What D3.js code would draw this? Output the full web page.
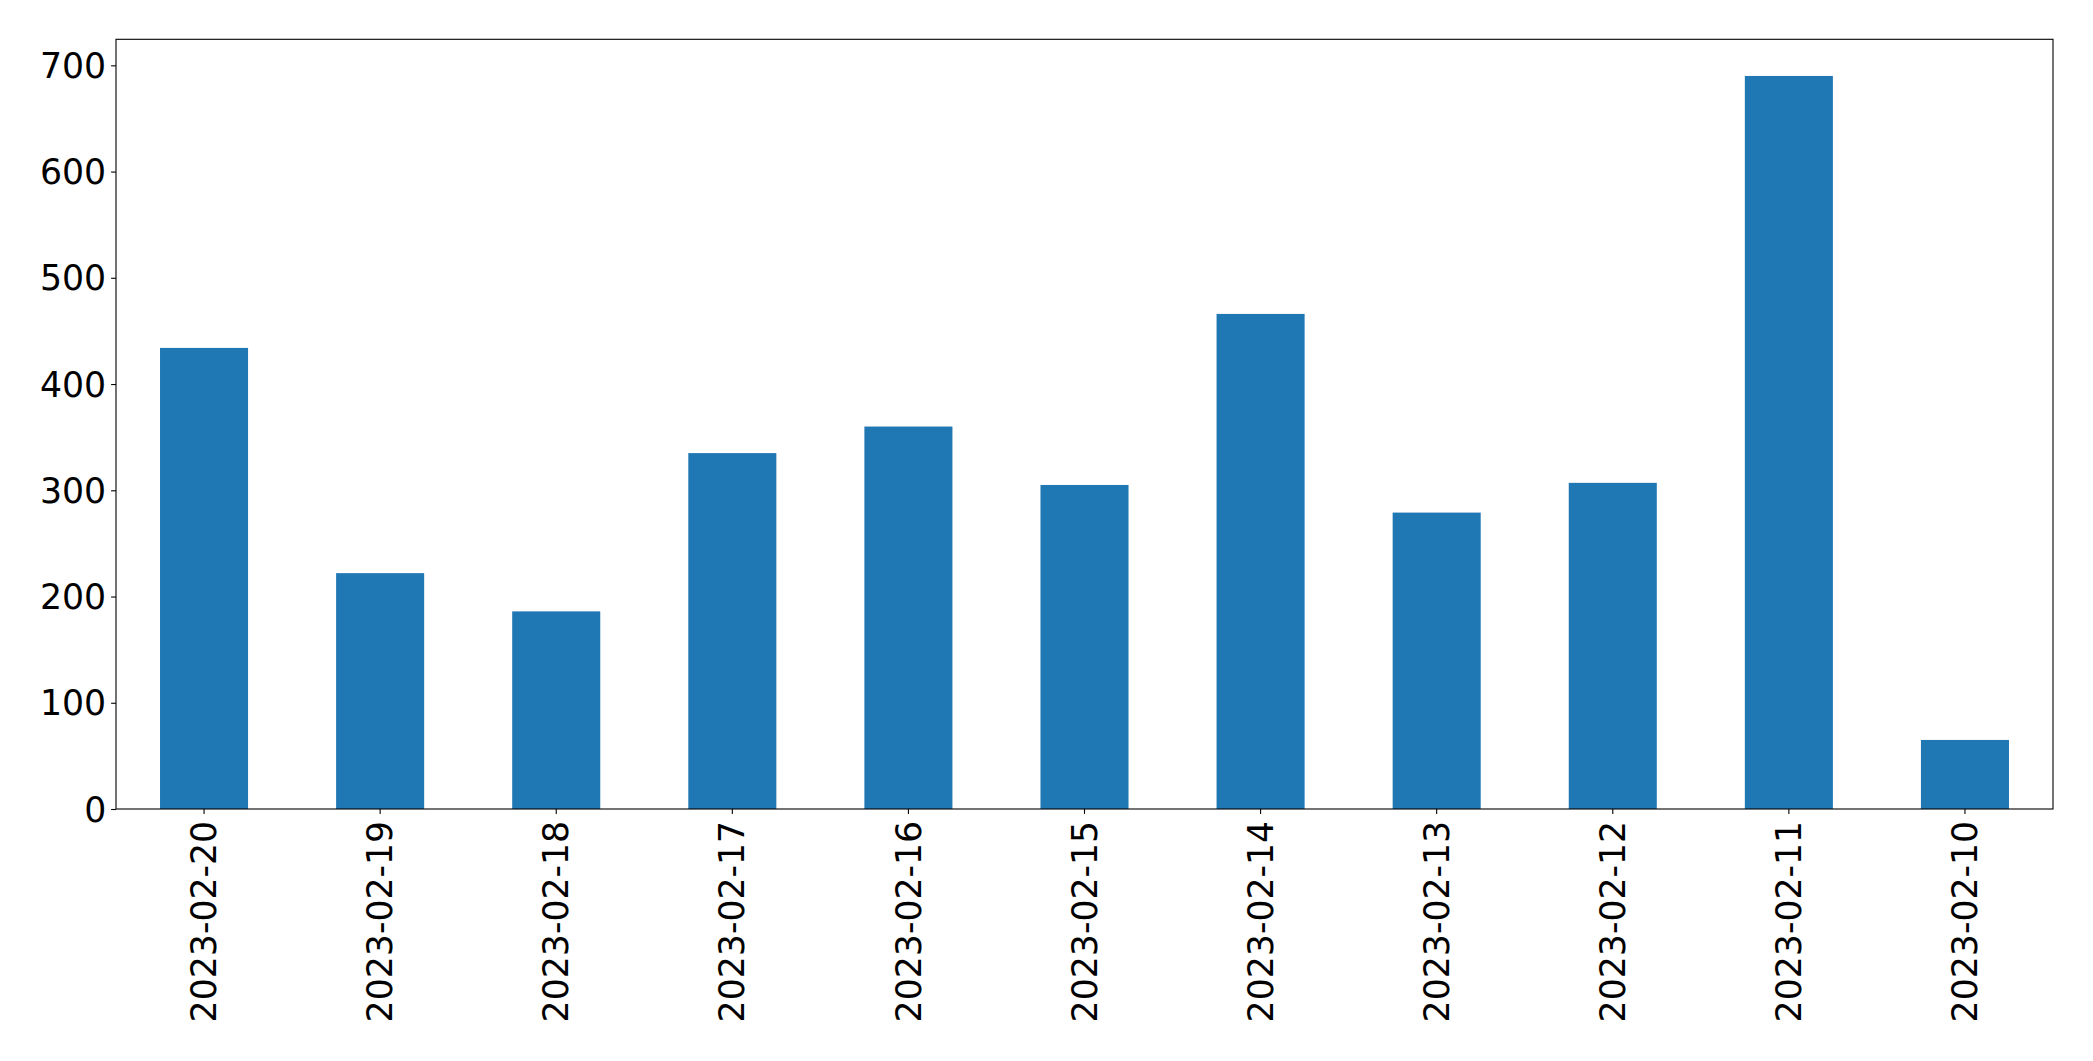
<!DOCTYPE html>
<html>
<head>
<meta charset="utf-8">
<script src="https://cdn.jsdelivr.net/npm/d3@7"></script>
<style>
  html, body { margin: 0; padding: 0; background: #fff; }
  svg { display: block; }
  text { font-family: "DejaVu Sans", sans-serif; fill: #000; }
</style>
</head>
<body>
<script>
const categories = ["2023-02-20","2023-02-19","2023-02-18","2023-02-17","2023-02-16","2023-02-15","2023-02-14","2023-02-13","2023-02-12","2023-02-11","2023-02-10"];
const values = [434, 222, 186, 335, 360, 305, 466, 279, 307, 690, 65];
const yTicks = [0, 100, 200, 300, 400, 500, 600, 700];

const W = 2093, H = 1061;
const mLeft = 116, mRight = 2053, mTop = 39.3, mBottom = 809;
const fontSize = 34.7;
const tickLen = 4.9, pad = 4.9;

const svg = d3.select("body").append("svg").attr("width", W).attr("height", H);

const x = d3.scaleBand().domain(categories).range([mLeft, mRight]).paddingInner(0.5).paddingOuter(0.25);
const ymax = d3.max(values) * 1.05;
const y = d3.scaleLinear().domain([0, ymax]).range([mBottom, mTop]);

svg.append("g").selectAll("rect").data(values).join("rect")
  .attr("x", (d, i) => x(categories[i]))
  .attr("width", x.bandwidth())
  .attr("y", d => y(d))
  .attr("height", d => y(0) - y(d))
  .attr("fill", "#1f77b4");

// y axis
const yAxis = svg.append("g").attr("transform", `translate(${mLeft},0)`)
  .call(d3.axisLeft(y).tickValues(yTicks).tickSize(tickLen).tickPadding(pad).tickFormat(d3.format("d")));
yAxis.select(".domain").remove();
yAxis.selectAll("line").attr("stroke", "#000").attr("stroke-width", 1.1);
yAxis.selectAll("text").style("font-size", fontSize + "px").style("font-family", "'DejaVu Sans', sans-serif").attr("fill", "#000").attr("dy", "0.35em");

// x axis
const xAxis = svg.append("g").attr("transform", `translate(0,${mBottom})`)
  .call(d3.axisBottom(x).tickSize(tickLen).tickPadding(pad));
xAxis.select(".domain").remove();
xAxis.selectAll("line").attr("stroke", "#000").attr("stroke-width", 1.1);
xAxis.selectAll("text")
  .style("font-size", fontSize + "px")
  .style("font-family", "'DejaVu Sans', sans-serif")
  .attr("fill", "#000")
  .attr("text-anchor", "end")
  .attr("y", 0)
  .attr("dy", "0.35em")
  .attr("transform", `translate(0,${tickLen + pad + 2}) rotate(-90)`);

// frame
svg.append("rect")
  .attr("x", mLeft).attr("y", mTop)
  .attr("width", mRight - mLeft).attr("height", mBottom - mTop)
  .attr("fill", "none").attr("stroke", "#000").attr("stroke-width", 1.1);
</script>
</body>
</html>
